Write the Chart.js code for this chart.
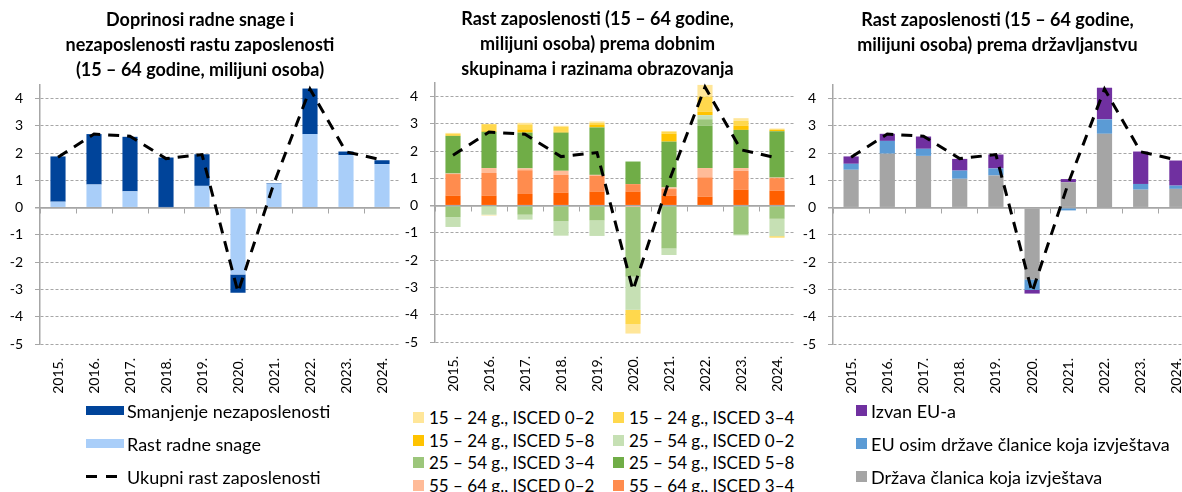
<!DOCTYPE html>
<html lang="hr">
<head>
<meta charset="utf-8">
<title>Rast zaposlenosti</title>
<script src="https://cdn.jsdelivr.net/npm/chart.js@4.4.1/dist/chart.umd.min.js"></script>
<style>
  html, body { margin: 0; overflow: hidden; }
  body { width: 1182px; height: 492px; position: relative; background: #fff; font-family: Lato, sans-serif; color: #000; }
  canvas { position: absolute; top: 0; }
  #c1 { left: 0; }
  #c2 { left: 400px; }
  #c3 { left: 800px; }
  .legend { position: absolute; font-size: 18px; }
  .legend .item { display: flex; align-items: center; white-space: nowrap; }
  #leg1 { left: 86px; top: 394px; }
  #leg1 .item { height: 33px; }
  #leg1 .box { width: 38px; height: 9px; margin-right: 3px; }
  #leg2 { left: 413px; top: 406px; display: grid; grid-template-columns: 200px 200px; font-size: 17px; }
  #leg2 .item { height: 22.7px; }
  #leg3 { left: 856px; top: 394px; }
  #leg3 .item { height: 33px; }
  #leg2 .box, #leg3 .box { width: 11px; height: 11px; margin-right: 5px; }
  #leg3 .box { margin-right: 4px; }
  #leg1 .dash { height: 3px; background: repeating-linear-gradient(to right, #000 0 11px, transparent 11px 20px); }
</style>
</head>
<body>
<canvas id="c1" width="400" height="400"></canvas>
<canvas id="c2" width="395" height="398"></canvas>
<canvas id="c3" width="395" height="400"></canvas>
<div class="legend" id="leg1"></div>
<div class="legend" id="leg2"></div>
<div class="legend" id="leg3"></div>

<script>
// Godine (kategorije)
const years = ['2015.', '2016.', '2017.', '2018.', '2019.', '2020.', '2021.', '2022.', '2023.', '2024.'];
const yTicks = [-5, -4, -3, -2, -1, 0, 1, 2, 3, 4];
const yMin = -5;
const yMax = 4.5;

// Ukupni rast zaposlenosti (isprekidana linija, ista na sva tri grafikona)
const ukupniRast = [1.85, 2.7, 2.62, 1.8, 1.95, -3.1, 0.9, 4.35, 2.05, 1.75];

// 1. grafikon
const rastRadneSnage = [0.22, 0.85, 0.6, 0.02, 0.8, -2.45, 0.88, 2.7, 1.93, 1.6];
const smanjenjeNezaposlenosti = [1.66, 1.85, 2.0, 1.82, 1.16, -0.67, 0.02, 1.67, 0.13, 0.14];

// 2. grafikon - dobne skupine i razine obrazovanja
const g5564_isced58 = [0.37, 0.37, 0.43, 0.48, 0.52, 0.52, 0.37, 0.33, 0.59, 0.55];
const g5564_isced34 = [0.79, 0.83, 0.87, 0.65, 0.58, 0.27, 0.24, 0.71, 0.69, 0.46];
const g5564_isced02 = [0.02, 0.18, 0.07, 0.15, 0.03, -0.05, 0.06, 0.34, 0.10, 0.02];
const g2554_isced58 = [1.38, 1.33, 1.31, 1.40, 1.74, 0.83, 1.68, 1.55, 1.40, 1.70];
const g2554_isced34 = [-0.42, -0.02, -0.33, -0.57, -0.54, -2.56, -1.57, 0.24, -1.06, -0.48];
const g2554_isced02 = [-0.36, -0.31, -0.18, -0.53, -0.57, -1.21, -0.24, 0.15, -0.03, -0.64];
const g1524_isced58 = [0.02, 0.03, 0.12, 0.03, 0.09, 0, 0.29, 0.13, 0.15, 0.06];
const g1524_isced34 = [0.06, 0.25, 0.18, 0.18, 0.08, -0.52, 0.07, 0.55, 0.18, -0.05];
const g1524_isced02 = [0.03, -0.03, 0.06, 0.04, 0.05, -0.35, 0.03, 0.43, 0.10, 0.04];

// 3. grafikon - državljanstvo
const drzavaClanica = [1.39, 1.98, 1.9, 1.06, 1.18, -2.63, 0.93, 2.71, 0.66, 0.69];
const euOsimDrzave = [0.22, 0.47, 0.26, 0.3, 0.26, -0.39, -0.1, 0.53, 0.21, 0.12];
const izvanEU = [0.27, 0.26, 0.45, 0.43, 0.51, -0.13, 0.12, 1.16, 1.19, 0.92];

Chart.defaults.font.family = 'Lato';
Chart.defaults.font.size = 14;
Chart.defaults.color = '#000';

const gridGray = '#A6A6A6';

function makeChart(id, bars, title, yWidth, pad, xHeight) {
    const datasets = [{
        type: 'line',
        label: 'Ukupni rast zaposlenosti',
        data: ukupniRast,
        borderColor: '#000',
        borderWidth: 3,
        borderDash: [11, 8],
        pointRadius: 0,
        fill: false,
        tension: 0,
        stack: 'ukupno',
        xAxisID: 'x',
        order: 0
    }];
    bars.forEach(function (b) {
        datasets.push({
            type: 'bar',
            label: b.label,
            data: b.data,
            backgroundColor: b.color,
            stack: 'dijelovi',
            xAxisID: 'x',
            order: 1,
            barPercentage: 0.42,
            categoryPercentage: 1
        });
    });

    return new Chart(document.getElementById(id), {
        type: 'bar',
        data: { labels: years, datasets: datasets },
        options: {
            responsive: false,
            animation: false,
            layout: { padding: 0 },
            plugins: {
                legend: { display: false },
                tooltip: { enabled: false },
                title: {
                    display: true,
                    text: title,
                    color: '#000',
                    font: { family: 'Lato', size: 18, weight: 'bold', lineHeight: '25px' },
                    padding: pad
                }
            },
            scales: {
                x: {
                    stacked: true,
                    grid: { display: false, drawTicks: false },
                    border: { display: false },
                    ticks: { minRotation: 90, maxRotation: 90, padding: 14, font: { size: 14 } },
                    afterFit: function (s) {
                        s.height = xHeight;
                        s.paddingLeft = 0;
                        s.paddingRight = 0;
                    }
                },
                x0: {
                    type: 'category',
                    labels: years,
                    position: { y: 0 },
                    offset: true,
                    grid: { offset: true, drawOnChartArea: false, drawTicks: true, tickLength: 5, color: gridGray },
                    ticks: { display: false },
                    border: { display: true, color: gridGray, width: 1.5 }
                },
                y: {
                    stacked: true,
                    min: yMin,
                    max: yMax,
                    ticks: { padding: 12, font: { size: 14 } },
                    afterBuildTicks: function (s) {
                        s.ticks = yTicks.map(function (v) { return { value: v }; });
                    },
                    afterFit: function (s) { s.width = yWidth; },
                    grid: {
                        color: gridGray,
                        tickColor: gridGray,
                        tickLength: 5,
                        lineWidth: function (ctx) { return ctx.tick && ctx.tick.value === 0 ? 1.5 : 1; }
                    },
                    border: {
                        display: true,
                        color: gridGray,
                        width: 1.5,
                        dash: function (ctx) { return ctx.tick && ctx.tick.value === 0 ? [] : [3, 2]; }
                    }
                }
            }
        }
    });
}

// Legenda kao HTML ispod grafikona
function buildLegend(id, items) {
    const el = document.getElementById(id);
    items.forEach(function (it) {
        const row = document.createElement('div');
        row.className = 'item';
        const box = document.createElement('span');
        box.className = it.dash ? 'box dash' : 'box';
        if (!it.dash) box.style.background = it.color;
        row.appendChild(box);
        row.appendChild(document.createTextNode(it.label));
        el.appendChild(row);
    });
}

// 1. grafikon
const bars1 = [
    { label: 'Rast radne snage', data: rastRadneSnage, color: '#A9CEF9' },
    { label: 'Smanjenje nezaposlenosti', data: smanjenjeNezaposlenosti, color: '#00449A' }
];
makeChart('c1', bars1,
    ['Doprinosi radne snage i', 'nezaposlenosti rastu zaposlenosti', '(15 – 64 godine, milijuni osoba)'],
    40, { top: 8, bottom: 2 }, 56);
buildLegend('leg1', [bars1[1], bars1[0], { label: 'Ukupni rast zaposlenosti', dash: true }]);

// 2. grafikon
const bars2 = [
    { label: '55 – 64 g., ISCED 5–8', data: g5564_isced58, color: '#FF5F00' },
    { label: '55 – 64 g., ISCED 3–4', data: g5564_isced34, color: '#FF8C4E' },
    { label: '55 – 64 g., ISCED 0–2', data: g5564_isced02, color: '#FFBB98' },
    { label: '25 – 54 g., ISCED 5–8', data: g2554_isced58, color: '#70AD47' },
    { label: '25 – 54 g., ISCED 3–4', data: g2554_isced34, color: '#9CC67B' },
    { label: '25 – 54 g., ISCED 0–2', data: g2554_isced02, color: '#C6E0B4' },
    { label: '15 – 24 g., ISCED 5–8', data: g1524_isced58, color: '#FFC300' },
    { label: '15 – 24 g., ISCED 3–4', data: g1524_isced34, color: '#FFD84D' },
    { label: '15 – 24 g., ISCED 0–2', data: g1524_isced02, color: '#FFE699' }
];
makeChart('c2', bars2,
    ['Rast zaposlenosti (15 – 64 godine,', 'milijuni osoba) prema dobnim', 'skupinama i razinama obrazovanja'],
    35, { top: 7, bottom: 1 }, 56);
buildLegend('leg2', bars2.slice().reverse());

// 3. grafikon
const bars3 = [
    { label: 'Država članica koja izvještava', data: drzavaClanica, color: '#A5A5A5' },
    { label: 'EU osim države članice koja izvještava', data: euOsimDrzave, color: '#5B9BD5' },
    { label: 'Izvan EU-a', data: izvanEU, color: '#7030A0' }
];
makeChart('c3', bars3,
    ['Rast zaposlenosti (15 – 64 godine,', 'milijuni osoba) prema državljanstvu'],
    33, { top: 8, bottom: 27 }, 56);
buildLegend('leg3', bars3.slice().reverse());
</script>
</body>
</html>
